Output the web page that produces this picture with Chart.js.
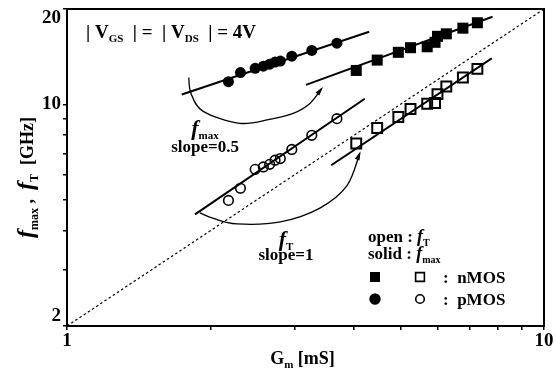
<!DOCTYPE html>
<html>
<head>
<meta charset="utf-8">
<script src="https://cdn.jsdelivr.net/npm/chart.js@4.4.1/dist/chart.umd.min.js"></script>
<style>
  html, body { margin: 0; padding: 0; background: #fff; }
  canvas { display: block; }
</style>
</head>
<body>
<canvas id="grafico" width="556" height="372"></canvas>
<script>
// Gm [mS] of the measured devices
const gmPmos = [2.18, 2.31, 2.48, 2.58, 2.66, 2.73, 2.80, 2.96, 3.26, 3.68];
const gmNmos = [4.04, 4.47, 4.95, 5.25, 5.69, 5.91, 5.98, 6.24, 6.76, 7.25];

// fmax (solid) and fT (open) in GHz
const fmaxPmos = [11.8, 12.6, 13.0, 13.2, 13.4, 13.6, 13.7, 14.2, 14.8, 15.6];
const ftPmos = [4.98, 5.44, 6.24, 6.35, 6.47, 6.67, 6.75, 7.21, 7.99, 9.02];
const fmaxNmos = [12.8, 13.8, 14.6, 15.1, 15.2, 15.7, 16.4, 16.7, 17.4, 18.1];
const ftNmos = [7.53, 8.43, 9.13, 9.67, 10.05, 10.10, 10.78, 11.39, 12.16, 12.95];

// fitted lines (end points)
const fitFmaxPmosGm = [1.74, 4.30];
const fitFmaxPmosF = [10.75, 16.95];
const fitFmaxNmosGm = [3.17, 7.80];
const fitFmaxNmosF = [11.53, 18.9];
const fitFtPmosGm = [1.855, 4.21];
const fitFtPmosF = [4.50, 10.42];
const fitFtNmosGm = [3.58, 7.77];
const fitFtNmosF = [6.43, 13.98];

// f = 2 * Gm reference line
const diagGm = [1, 10];
const diagF = [2, 20];

// ticks
const xTicks = [1, 2, 3, 4, 5, 6, 7, 8, 9, 10];
const xLabels = [1, 10];
const yTicks = [2, 3, 4, 5, 6, 7, 8, 9, 10, 20];
const yLabels = [2, 10, 20];

// curved arrows, in (Gm, f)
const arcFmaxGm = [1.80, 1.82, 1.93, 2.30, 2.66, 2.98, 3.23, 3.42];
const arcFmaxF = [12.16, 10.83, 9.51, 8.72, 8.97, 9.37, 10.07, 11.23];
const arcFtGm = [1.90, 2.02, 2.27, 2.80, 3.39, 3.86, 4.11];
const arcFtF = [4.55, 4.38, 4.20, 4.26, 4.71, 5.53, 7.02];

const SERIF = '"Liberation Serif", "Times New Roman", serif';
const fnt = (size, style) => (style || 'bold') + ' ' + size + 'px ' + SERIF;

const pares = (xs, ys) => xs.map((x, i) => ({ x: x, y: ys[i] }));

function linea(xs, ys, extra) {
    return Object.assign({
        data: pares(xs, ys),
        showLine: true,
        borderColor: '#000',
        borderWidth: 2,
        pointRadius: 0,
        fill: false
    }, extra || {});
}

// draws text made of pieces with different fonts (subscripts etc.)
function texto(ctx, x, y, partes, align) {
    let ancho = 0;
    partes.forEach(p => { ctx.font = p.f; ancho += ctx.measureText(p.t).width; });
    let cx = align === 'center' ? x - ancho / 2 : x;
    partes.forEach(p => {
        ctx.font = p.f;
        ctx.fillText(p.t, cx, y + (p.dy || 0));
        cx += ctx.measureText(p.t).width;
    });
}

function flecha(ctx, pts) {
    ctx.beginPath();
    ctx.moveTo(pts[0].x, pts[0].y);
    for (let i = 0; i < pts.length - 1; i++) {
        const p0 = pts[i - 1] || pts[i], p1 = pts[i], p2 = pts[i + 1], p3 = pts[i + 2] || p2;
        ctx.bezierCurveTo(p1.x + (p2.x - p0.x) / 6, p1.y + (p2.y - p0.y) / 6,
            p2.x - (p3.x - p1.x) / 6, p2.y - (p3.y - p1.y) / 6, p2.x, p2.y);
    }
    ctx.stroke();
    const a = pts[pts.length - 2], b = pts[pts.length - 1];
    const ang = Math.atan2(b.y - a.y, b.x - a.x);
    const c = Math.cos(ang), s = Math.sin(ang);
    ctx.beginPath();
    ctx.moveTo(b.x + 2 * c, b.y + 2 * s);
    ctx.lineTo(b.x - 7 * c + 2.5 * s, b.y - 7 * s - 2.5 * c);
    ctx.lineTo(b.x - 7 * c - 2.5 * s, b.y - 7 * s + 2.5 * c);
    ctx.closePath();
    ctx.fill();
}

const anotaciones = {
    id: 'anotaciones',
    afterDraw(chart) {
        const ctx = chart.ctx;
        const area = chart.chartArea;
        const sx = chart.scales.x, sy = chart.scales.y;
        const px = (gm, f) => ({ x: sx.getPixelForValue(gm), y: sy.getPixelForValue(f) });

        ctx.save();
        ctx.fillStyle = '#000';
        ctx.strokeStyle = '#000';

        // frame
        ctx.lineWidth = 2;
        ctx.strokeRect(area.left, area.top, area.right - area.left, area.bottom - area.top);

        // arrows
        ctx.lineWidth = 1.3;
        flecha(ctx, arcFmaxGm.map((g, i) => px(g, arcFmaxF[i])));
        flecha(ctx, arcFtGm.map((g, i) => px(g, arcFtF[i])));

        ctx.textBaseline = 'alphabetic';

        // bias condition
        texto(ctx, area.left + 19, area.top + 29, [
            { t: '| V', f: fnt(19) },
            { t: 'GS', f: fnt(11), dy: 4 },
            { t: '  | =  | V', f: fnt(19) },
            { t: 'DS', f: fnt(11), dy: 4 },
            { t: '  | = 4V', f: fnt(19) }
        ]);

        // slope labels
        let p = px(1.947, 7.99);
        texto(ctx, p.x, p.y, [
            { t: 'f', f: fnt(22, 'italic bold') },
            { t: 'max', f: fnt(11), dy: 4 }
        ], 'center');
        p = px(1.947, 7.07);
        texto(ctx, p.x, p.y, [{ t: 'slope=0.5', f: fnt(17) }], 'center');
        p = px(2.878, 3.58);
        texto(ctx, p.x, p.y, [
            { t: 'f', f: fnt(22, 'italic bold') },
            { t: 'T', f: fnt(11), dy: 4 }
        ], 'center');
        p = px(2.878, 3.24);
        texto(ctx, p.x, p.y, [{ t: 'slope=1', f: fnt(17) }], 'center');

        // legend
        const lx = area.left + 301;
        texto(ctx, lx, area.top + 233, [
            { t: 'open : ', f: fnt(17) },
            { t: 'f', f: fnt(18, 'italic bold') },
            { t: 'T', f: fnt(10), dy: 4 }
        ]);
        texto(ctx, lx, area.top + 250, [
            { t: 'solid : ', f: fnt(17) },
            { t: 'f', f: fnt(18, 'italic bold') },
            { t: 'max', f: fnt(10), dy: 4 }
        ]);
        texto(ctx, area.left + 376, area.top + 274, [{ t: ':  nMOS', f: fnt(17) }]);
        texto(ctx, area.left + 376, area.top + 296, [{ t: ':  pMOS', f: fnt(17) }]);

        const h = Chart.helpers;
        ctx.lineWidth = 1.6;
        h.drawPoint(ctx, { pointStyle: 'rect', radius: 7, borderWidth: 0 }, area.left + 308, area.top + 268);
        ctx.fill();
        h.drawPoint(ctx, { pointStyle: 'circle', radius: 5.5, borderWidth: 0 }, area.left + 308, area.top + 290);
        ctx.fill();
        ctx.fillStyle = 'rgba(0,0,0,0)';
        h.drawPoint(ctx, { pointStyle: 'rect', radius: 6.2, borderWidth: 1.6 }, area.left + 353, area.top + 268);
        h.drawPoint(ctx, { pointStyle: 'circle', radius: 4.3, borderWidth: 1.6 }, area.left + 353, area.top + 290);
        ctx.fillStyle = '#000';

        // axis titles
        texto(ctx, (area.left + area.right) / 2 - 3, 364, [
            { t: 'G', f: fnt(18) },
            { t: 'm', f: fnt(11), dy: 4 },
            { t: ' [mS]', f: fnt(18) }
        ], 'center');

        ctx.translate(33, (area.top + area.bottom) / 2 + 10);
        ctx.rotate(-Math.PI / 2);
        texto(ctx, 0, 0, [
            { t: 'f', f: fnt(24, 'italic bold') },
            { t: 'max', f: fnt(12), dy: 5 },
            { t: ' ,  ', f: fnt(18) },
            { t: 'f', f: fnt(24, 'italic bold') },
            { t: 'T', f: fnt(12), dy: 5 },
            { t: '  [GHz]', f: fnt(18) }
        ], 'center');

        ctx.restore();
    }
};

const fondo = {
    id: 'fondo',
    beforeDraw(chart) {
        const ctx = chart.ctx;
        ctx.save();
        ctx.fillStyle = '#fff';
        ctx.fillRect(0, 0, chart.width, chart.height);
        ctx.restore();
    }
};

const ejeFuente = { family: SERIF, size: 19, weight: 'bold', lineHeight: 1 };

const ctx = document.getElementById('grafico').getContext('2d');
new Chart(ctx, {
    type: 'scatter',
    data: {
        datasets: [
            linea(diagGm, diagF, { borderWidth: 1.2, borderDash: [2.5, 2.5] }),
            linea(fitFmaxPmosGm, fitFmaxPmosF),
            linea(fitFmaxNmosGm, fitFmaxNmosF),
            linea(fitFtPmosGm, fitFtPmosF),
            linea(fitFtNmosGm, fitFtNmosF),
            {
                label: 'pMOS fmax', data: pares(gmPmos, fmaxPmos),
                pointStyle: 'circle', pointRadius: 5.5, borderWidth: 0,
                backgroundColor: '#000', borderColor: '#000'
            },
            {
                label: 'nMOS fmax', data: pares(gmNmos, fmaxNmos),
                pointStyle: 'rect', pointRadius: 7.8, borderWidth: 0,
                backgroundColor: '#000', borderColor: '#000'
            },
            {
                label: 'pMOS fT', data: pares(gmPmos, ftPmos),
                pointStyle: 'circle', pointRadius: 4.8, borderWidth: 1.6,
                backgroundColor: 'rgba(0,0,0,0)', borderColor: '#000'
            },
            {
                label: 'nMOS fT', data: pares(gmNmos, ftNmos),
                pointStyle: 'rect', pointRadius: 7, borderWidth: 2,
                backgroundColor: 'rgba(0,0,0,0)', borderColor: '#000'
            }
        ]
    },
    options: {
        responsive: false,
        animation: false,
        devicePixelRatio: 1,
        layout: { padding: { top: 7, right: 12, left: 0, bottom: 0 } },
        plugins: {
            legend: { display: false },
            tooltip: { enabled: false }
        },
        scales: {
            x: {
                type: 'logarithmic',
                min: 1,
                max: 10,
                afterBuildTicks: s => { s.ticks = xTicks.map(v => ({ value: v })); },
                afterFit: s => { s.height = 46; s.paddingLeft = 0; s.paddingRight = 0; },
                ticks: {
                    autoSkip: false,
                    maxRotation: 0,
                    padding: 2,
                    color: '#000',
                    font: ejeFuente,
                    callback: v => xLabels.includes(v) ? String(v) : ''
                },
                grid: { drawOnChartArea: false, color: '#000', lineWidth: 1.5, tickLength: 4 },
                border: { display: false }
            },
            y: {
                type: 'logarithmic',
                min: 2,
                max: 20,
                afterBuildTicks: s => { s.ticks = yTicks.map(v => ({ value: v })); },
                afterFit: s => { s.width = 67; s.paddingTop = 0; s.paddingBottom = 0; },
                ticks: {
                    autoSkip: false,
                    padding: 2,
                    color: '#000',
                    font: ejeFuente,
                    callback: v => {
                        if (!yLabels.includes(v)) return '';
                        if (v === 20) return ['', '20'];
                        if (v === 2) return ['2', ''];
                        return String(v);
                    }
                },
                grid: { drawOnChartArea: false, color: '#000', lineWidth: 1.5, tickLength: 4 },
                border: { display: false }
            }
        }
    },
    plugins: [fondo, anotaciones]
});
</script>
</body>
</html>
